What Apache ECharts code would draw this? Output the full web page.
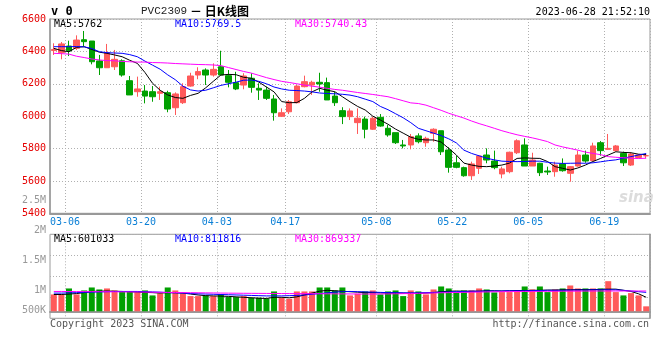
<!DOCTYPE html>
<html><head><meta charset="utf-8">
<script src="https://cdn.jsdelivr.net/npm/echarts@6/dist/echarts.min.js"></script>
<style>html,body{margin:0;padding:0;background:#fff}#c{width:660px;height:360px}</style>
</head><body><div id="c"></div>
<script>
const dates = ['03-02','03-03','03-06','03-07','03-08','03-09','03-10','03-13','03-14','03-15','03-16','03-17','03-20','03-21','03-22','03-23','03-24','03-27','03-28','03-29','03-30','03-31',
'04-03','04-04','04-06','04-07','04-10','04-11','04-12','04-13','04-14','04-17','04-18','04-19','04-20','04-21','04-24','04-25','04-26','04-27','04-28',
'05-04','05-05','05-08','05-09','05-10','05-11','05-12','05-15','05-16','05-17','05-18','05-19','05-22','05-23','05-24','05-25','05-26','05-29','05-30','05-31',
'06-01','06-02','06-05','06-06','06-07','06-08','06-09','06-12','06-13','06-14','06-15','06-16','06-19','06-20','06-21','06-26','06-27','06-28'];
const dateTicks = ['03-06','03-20','04-03','04-17','05-08','05-22','06-05','06-19'];

const opens  = [6405,6392,6433,6419,6472,6464,6341,6299,6305,6342,6219,6151,6155,6151,6141,6145,6052,6083,6186,6254,6285,6254,6305,6250,6207,6192,6234,6172,6161,6106,5999,6027,6083,6182,6192,6209,6207,6124,6034,5997,5960,5982,5919,5993,5925,5898,5822,5822,5878,5836,5894,5910,5791,5712,5682,5632,5678,5760,5723,5643,5657,5774,5822,5692,5709,5661,5657,5705,5647,5692,5760,5725,5836,5795,5787,5770,5698,5745,5755];
const closes = [6412,6446,6404,6470,6460,6336,6299,6392,6351,6254,6131,6168,6124,6120,6151,6044,6137,6182,6248,6275,6254,6289,6254,6209,6168,6248,6178,6161,6110,6021,6021,6089,6186,6213,6209,6199,6100,6083,5997,6032,5987,5919,5987,5939,5884,5836,5816,5873,5842,5863,5919,5780,5684,5684,5632,5705,5754,5729,5682,5674,5777,5848,5692,5729,5651,5655,5698,5663,5688,5760,5723,5816,5787,5801,5816,5712,5766,5760,5756];
const lows   = [6378,6351,6371,6409,6433,6320,6254,6299,6285,6244,6131,6120,6079,6089,6100,6024,6007,6075,6182,6228,6192,6244,6254,6178,6161,6166,6145,6100,6100,5972,5997,6013,6079,6178,6131,6151,6100,6063,5951,5976,5890,5863,5915,5935,5873,5828,5801,5795,5832,5811,5842,5760,5651,5678,5626,5606,5643,5709,5672,5616,5647,5766,5692,5692,5630,5637,5626,5657,5595,5688,5712,5723,5756,5791,5781,5692,5692,5739,5740];
const highs  = [6450,6458,6466,6499,6526,6464,6378,6446,6409,6351,6248,6244,6192,6186,6182,6157,6147,6203,6268,6302,6295,6326,6404,6285,6274,6265,6265,6203,6182,6131,6048,6100,6192,6250,6219,6268,6238,6151,6055,6048,6048,5997,5997,6013,5945,5898,5853,5890,5894,5873,5925,5910,5808,5754,5688,5719,5760,5801,5787,5688,5781,5857,5863,5774,5712,5688,5719,5739,5692,5787,5787,5836,5846,5890,5822,5781,5774,5766,5768];

const ma5  = [6419,6405,6398,6425,6429,6412,6395,6388,6378,6367,6345,6326,6270,6203,6160,6131,6115,6110,6128,6141,6175,6215,6254,6258,6256,6240,6234,6210,6180,6150,6090,6083,6084,6110,6150,6172,6160,6151,6120,6089,6060,6038,6000,5976,5950,5920,5895,5870,5857,5853,5853,5840,5801,5760,5710,5698,5690,5688,5692,5698,5710,5739,5742,5740,5739,5720,5688,5678,5667,5680,5698,5720,5739,5760,5780,5776,5774,5765,5762];
const ma10 = [6429,6429,6429,6430,6428,6418,6398,6392,6390,6388,6380,6367,6340,6315,6290,6255,6225,6185,6162,6155,6160,6175,6190,6200,6210,6222,6223,6215,6200,6180,6168,6160,6158,6155,6150,6143,6140,6138,6135,6130,6120,6105,6090,6060,6040,6015,5990,5960,5925,5910,5895,5880,5860,5835,5790,5770,5755,5740,5730,5722,5720,5719,5720,5722,5722,5715,5710,5708,5709,5710,5709,5712,5718,5725,5730,5740,5750,5760,5769.5];
const ma30 = [6388,6386,6383,6370,6362,6353,6347,6343,6342,6338,6336,6334,6334,6331,6330,6328,6325,6323,6321,6319,6318,6316,6312,6300,6288,6276,6266,6252,6238,6226,6215,6208,6200,6192,6185,6179,6172,6165,6160,6153,6146,6140,6134,6127,6120,6108,6095,6082,6078,6068,6052,6036,6018,6003,5988,5970,5954,5940,5925,5910,5897,5885,5875,5866,5855,5843,5822,5810,5800,5790,5778,5770,5762,5750,5746,5743,5740,5738,5740.43];

const volumes = [723000,723000,979000,723000,894000,1021000,936000,979000,894000,851000,851000,809000,894000,681000,766000,1021000,894000,766000,652000,652000,681000,652000,738000,624000,610000,652000,582000,582000,553000,851000,582000,539000,851000,851000,851000,1021000,1021000,
894000,1021000,681000,752000,851000,894000,723000,851000,894000,652000,894000,851000,723000,936000,1064000,979000,809000,894000,894000,979000,936000,809000,823000,823000,894000,1064000,936000,1064000,823000,936000,979000,1106000,979000,979000,979000,979000,1291000,823000,681000,780000,681000,213000];
const volMa5  = [720000,720000,740000,760000,800000,850000,860000,870000,860000,850000,840000,820000,810000,800000,780000,800000,800000,780000,740000,700000,670000,660000,650000,640000,620000,600000,580000,560000,550000,600000,600000,580000,620000,700000,780000,860000,900000,880000,860000,840000,820000,800000,800000,790000,780000,780000,780000,770000,770000,780000,800000,840000,860000,870000,860000,860000,860000,880000,880000,870000,880000,890000,890000,900000,900000,910000,910000,920000,920000,930000,930000,930000,940000,950000,950000,900000,850000,750000,601033];
const volMa10 = [780000,780000,790000,800000,810000,820000,830000,840000,850000,850000,850000,850000,840000,830000,820000,800000,790000,780000,760000,750000,740000,730000,720000,710000,700000,690000,680000,670000,660000,660000,660000,670000,680000,700000,730000,760000,790000,820000,840000,850000,840000,830000,820000,810000,800000,800000,790000,790000,790000,800000,810000,820000,830000,840000,850000,860000,860000,870000,870000,870000,880000,880000,880000,890000,890000,900000,900000,900000,910000,910000,910000,920000,920000,920000,920000,900000,870000,840000,811816];
const volMa30 = [850000,850000,848000,846000,844000,842000,840000,838000,835000,832000,830000,826000,822000,818000,814000,810000,806000,802000,798000,794000,790000,786000,782000,778000,775000,772000,770000,768000,766000,764000,762000,760000,758000,756000,754000,752000,750000,748000,746000,744000,742000,740000,740000,742000,746000,750000,756000,762000,770000,778000,786000,794000,800000,806000,812000,818000,824000,830000,836000,840000,844000,848000,850000,852000,854000,856000,858000,860000,862000,864000,866000,868000,870000,870000,870000,870000,870000,869500,869337];

const priceMin = 5400, priceMax = 6600, priceStep = 200;
const volLabelTicks = [0, 500000, 1000000, 1500000, 2000000, 2500000];

const UP = '#ff5a5a', DOWN = '#00a000';
const MONO = "'DejaVu Sans Mono', monospace";
const isTick = (i, v) => dateTicks.indexOf(v === undefined ? dates[i] : v) >= 0;
const dotted = {color: '#b0b0b0', width: 1, type: [1, 2]};

const candleData = dates.map((d, i) => [opens[i], closes[i], lows[i], highs[i]]);
const volData = volumes.map((v, i) => ({value: v, itemStyle: {color: closes[i] >= opens[i] ? UP : DOWN}}));

const chart = echarts.init(document.getElementById('c'), null, {renderer: 'canvas'});
const txt = (text, x, y, fill, font, align) => ({type: 'text', x: x, y: y, silent: true,
  style: {text: text, fill: fill, font: font, align: align || 'left', verticalAlign: 'middle', textAlign: align || 'left', textVerticalAlign: 'middle'}});

chart.setOption({
  animation: false,
  backgroundColor: '#fff',
  grid: [
    {left: 50, right: 10, top: 19, height: 194.3, show: true, borderColor: '#999', borderWidth: 1, containLabel: false, outerBoundsMode: 'none'},
    {left: 50, right: 10, top: 234.3, height: 84, show: true, borderColor: '#999', borderWidth: 1, containLabel: false, outerBoundsMode: 'none'},
    {left: 50, right: 10, top: 200.7, height: 150, show: false, containLabel: false, outerBoundsMode: 'none'}
  ],
  xAxis: [
    {type: 'category', gridIndex: 0, data: dates, boundaryGap: true,
     axisLine: {show: true, lineStyle: {color: '#999', width: 2}}, axisTick: {show: false},
     axisLabel: {show: true, interval: isTick, color: '#0a7fd6', fontFamily: MONO, fontSize: 10, margin: 4, padding: [0, 8, 0, 0]},
     splitLine: {show: true, interval: isTick, lineStyle: dotted}},
    {type: 'category', gridIndex: 1, data: dates, boundaryGap: true,
     axisLine: {show: true, lineStyle: {color: '#999', width: 2}}, axisTick: {show: false}, axisLabel: {show: false},
     splitLine: {show: true, interval: isTick, lineStyle: dotted}},
    {type: 'category', gridIndex: 2, data: dates, show: false}
  ],
  yAxis: [
    {type: 'value', gridIndex: 0, min: priceMin, max: priceMax, interval: priceStep,
     axisLine: {show: true, lineStyle: {color: '#999', width: 1.5}}, axisTick: {show: false},
     axisLabel: {color: '#e60000', fontFamily: MONO, fontSize: 10, margin: 4, padding: [0, 0, 5, 0], showMinLabel: true, showMaxLabel: true,
       formatter: v => String(v)},
     splitLine: {show: true, lineStyle: dotted}},
    {type: 'value', gridIndex: 1, min: -300000, max: 3300000, show: false, splitLine: {show: false}},
    {type: 'value', gridIndex: 1, min: 0, max: 4, interval: 1,
     axisLine: {show: true, lineStyle: {color: '#999', width: 1.5}}, axisTick: {show: false}, axisLabel: {show: false},
     splitLine: {show: true, lineStyle: dotted}},
    {type: 'value', gridIndex: 2, min: volLabelTicks[0], max: volLabelTicks[volLabelTicks.length - 1], interval: 500000,
     axisLine: {show: false}, axisTick: {show: false}, splitLine: {show: false},
     axisLabel: {show: true, margin: 4, color: '#999', fontFamily: MONO, fontSize: 10,
       formatter: v => v === 0 ? '' : (v === 500000 ? '{lo|500K}' : (v >= 1000000 ? (v / 1000000) + 'M' : (v / 1000) + 'K')),
       rich: {lo: {color: '#999', fontFamily: MONO, fontSize: 10, padding: [0, 0, 20, 0]}}}}
  ],
  series: [
    {type: 'candlestick', xAxisIndex: 0, yAxisIndex: 0, data: candleData, barWidth: 6,
     itemStyle: {color: UP, color0: DOWN, borderColor: UP, borderColor0: DOWN, borderWidth: 1}},
    {type: 'line', xAxisIndex: 0, yAxisIndex: 0, data: ma5, symbol: 'none', lineStyle: {color: '#000', width: 1}},
    {type: 'line', xAxisIndex: 0, yAxisIndex: 0, data: ma10, symbol: 'none', lineStyle: {color: '#0000ff', width: 1}},
    {type: 'line', xAxisIndex: 0, yAxisIndex: 0, data: ma30, symbol: 'none', lineStyle: {color: '#ff00ff', width: 1}},
    {type: 'bar', xAxisIndex: 1, yAxisIndex: 1, data: volData, barWidth: 6},
    {type: 'line', xAxisIndex: 1, yAxisIndex: 1, data: volMa5, symbol: 'none', lineStyle: {color: '#000', width: 1}},
    {type: 'line', xAxisIndex: 1, yAxisIndex: 1, data: volMa10, symbol: 'none', lineStyle: {color: '#0000ff', width: 1}},
    {type: 'line', xAxisIndex: 1, yAxisIndex: 1, data: volMa30, symbol: 'none', lineStyle: {color: '#ff00ff', width: 1}}
  ],
  graphic: [
    txt('v 0', 51, 12, '#000', "bold 12px 'DejaVu Sans Mono'"),
    txt('PVC2309', 141, 11, '#222', "11px 'Liberation Mono'"),
    txt('－ 日K线图', 190, 11, '#000', "bold 12px 'Noto Sans CJK SC'"),
    txt('2023-06-28 21:52:10', 650, 12, '#000', "10px 'DejaVu Sans Mono'", 'right'),
    txt('MA5:' + ma5[ma5.length - 1], 54, 24, '#000', "10px 'DejaVu Sans Mono'"),
    txt('MA10:' + ma10[ma10.length - 1], 175, 24, '#0000ff', "10px 'DejaVu Sans Mono'"),
    txt('MA30:' + ma30[ma30.length - 1], 295, 24, '#ff00ff', "10px 'DejaVu Sans Mono'"),
    txt('MA5:' + volMa5[volMa5.length - 1], 54, 239, '#000', "10px 'DejaVu Sans Mono'"),
    txt('MA10:' + volMa10[volMa10.length - 1], 175, 239, '#0000ff', "10px 'DejaVu Sans Mono'"),
    txt('MA30:' + volMa30[volMa30.length - 1], 295, 239, '#ff00ff', "10px 'DejaVu Sans Mono'"),
    txt('Copyright 2023 SINA.COM', 50, 324, '#555', "10px 'DejaVu Sans Mono'"),
    txt('http://finance.sina.com.cn', 649, 324, '#555', "10px 'DejaVu Sans Mono'", 'right'),
    txt('sina', 619, 198, '#dcdcdc', "italic bold 15px 'DejaVu Sans'")
  ]
});
</script>
</body></html>
